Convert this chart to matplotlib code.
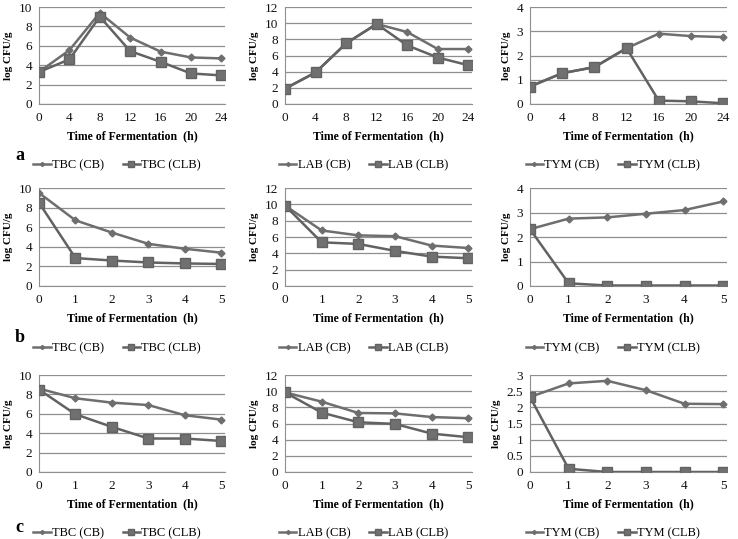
import matplotlib
matplotlib.use("Agg")
import matplotlib.pyplot as plt

plt.rcParams['font.family'] = ['Liberation Serif', 'DejaVu Serif']

# row a: 0-24 h
hours_a = [0, 4, 8, 12, 16, 20, 24]
tbc_cb_a = [3.3, 5.55, 9.4, 6.85, 5.4, 4.8, 4.7]
tbc_clb_a = [3.3, 4.6, 9.0, 5.45, 4.35, 3.15, 2.95]
lab_cb_a = [1.9, 3.9, 7.5, 9.9, 8.9, 6.8, 6.8]
lab_clb_a = [1.9, 3.9, 7.5, 9.9, 7.25, 5.75, 4.8]
tym_cb_a = [0.72, 1.27, 1.52, 2.3, 2.9, 2.8, 2.76]
tym_clb_a = [0.72, 1.27, 1.52, 2.3, 0.14, 0.11, 0.03]

# rows b, c: 0-5 h
hours_bc = [0, 1, 2, 3, 4, 5]
tbc_cb_b = [9.5, 6.7, 5.45, 4.3, 3.8, 3.4]
tbc_clb_b = [8.5, 2.85, 2.6, 2.4, 2.3, 2.25]
lab_cb_b = [9.85, 6.8, 6.2, 6.1, 4.95, 4.65]
lab_clb_b = [9.85, 5.35, 5.15, 4.3, 3.6, 3.4]
tym_cb_b = [2.32, 2.75, 2.8, 2.95, 3.1, 3.45]
tym_clb_b = [2.32, 0.11, 0.02, 0.02, 0.02, 0.02]

tbc_cb_c = [8.6, 7.6, 7.15, 6.9, 5.85, 5.4]
tbc_clb_c = [8.5, 5.95, 4.65, 3.45, 3.45, 3.2]
lab_cb_c = [9.85, 8.7, 7.3, 7.25, 6.8, 6.65]
lab_clb_c = [9.85, 7.35, 6.15, 5.95, 4.75, 4.3]
tym_cb_c = [2.32, 2.74, 2.82, 2.53, 2.11, 2.1]
tym_clb_c = [2.32, 0.1, 0.0, 0.0, 0.0, 0.0]

names = ['TBC', 'LAB', 'TYM']
row_letters = ['a', 'b', 'c']

panels = [
    [(hours_a, tbc_cb_a, tbc_clb_a, 10, 2), (hours_a, lab_cb_a, lab_clb_a, 12, 2), (hours_a, tym_cb_a, tym_clb_a, 4, 1)],
    [(hours_bc, tbc_cb_b, tbc_clb_b, 10, 2), (hours_bc, lab_cb_b, lab_clb_b, 12, 2), (hours_bc, tym_cb_b, tym_clb_b, 4, 1)],
    [(hours_bc, tbc_cb_c, tbc_clb_c, 10, 2), (hours_bc, lab_cb_c, lab_clb_c, 12, 2), (hours_bc, tym_cb_c, tym_clb_c, 3, 0.5)],
]

W, H = 738, 539
cols_px = [(39, 225), (285, 472), (530, 727)]
rows_px = [(7, 104), (188, 286), (375, 472)]
letter_y = [155, 337, 527]

line_col = '#6e6e6e'
grid_col = '#8f8f8f'

fig = plt.figure(figsize=(W / 100, H / 100), dpi=100)

for r in range(3):
    for c in range(3):
        x, cb, clb, ymax, ystep = panels[r][c]
        l, rt = cols_px[c]
        t, b = rows_px[r]
        ax = fig.add_axes([l / W, 1 - b / H, (rt - l) / W, (b - t) / H])
        ax.plot(x, cb, color=line_col, lw=1.8, marker='D', ms=3.5,
                mfc=line_col, mec=line_col, label=f'{names[c]} (CB)', zorder=3)
        ax.plot(x, clb, color='#626262', lw=1.8, marker='s', ms=6.5,
                mfc='#707070', mec='#626262', label=f'{names[c]} (CLB)', zorder=4)
        ax.set_ylim(0, ymax)
        ticks = []
        v = 0
        while v <= ymax + 1e-9:
            ticks.append(v)
            v += ystep
        ax.set_yticks(ticks)
        ax.set_yticklabels([f'{tk:g}' for tk in ticks])
        ax.set_xticks(x)
        ax.set_xlim(0, x[-1] * 1.02)
        ax.yaxis.grid(True, color=grid_col, lw=0.9)
        ax.set_axisbelow(True)
        for s in ['top', 'right']:
            ax.spines[s].set_visible(False)
        ax.spines['left'].set_color(grid_col)
        ax.spines['bottom'].set_color(grid_col)
        ax.tick_params(length=0, labelsize=9.5, colors='#111111')
        ax.tick_params(axis='x', pad=6)
        ax.tick_params(axis='y', pad=5)
        ax.set_xlabel('Time of Fermentation  (h)', fontsize=8.5,
                      fontweight='bold', labelpad=4)
        ax.set_ylabel('log CFU/g', fontsize=8, fontweight='bold', labelpad=4)
        ax.legend(loc='upper center', bbox_to_anchor=(0.42, -0.52), ncol=2,
                  frameon=False, fontsize=9, handlelength=1.4, markerscale=0.6,
                  handletextpad=0.1, columnspacing=1.5, borderaxespad=0)
    fig.text(15 / W, 1 - letter_y[r] / H, row_letters[r], fontsize=13,
             fontweight='bold', ha='left', va='center')

fig.savefig('out.png', dpi=100)
